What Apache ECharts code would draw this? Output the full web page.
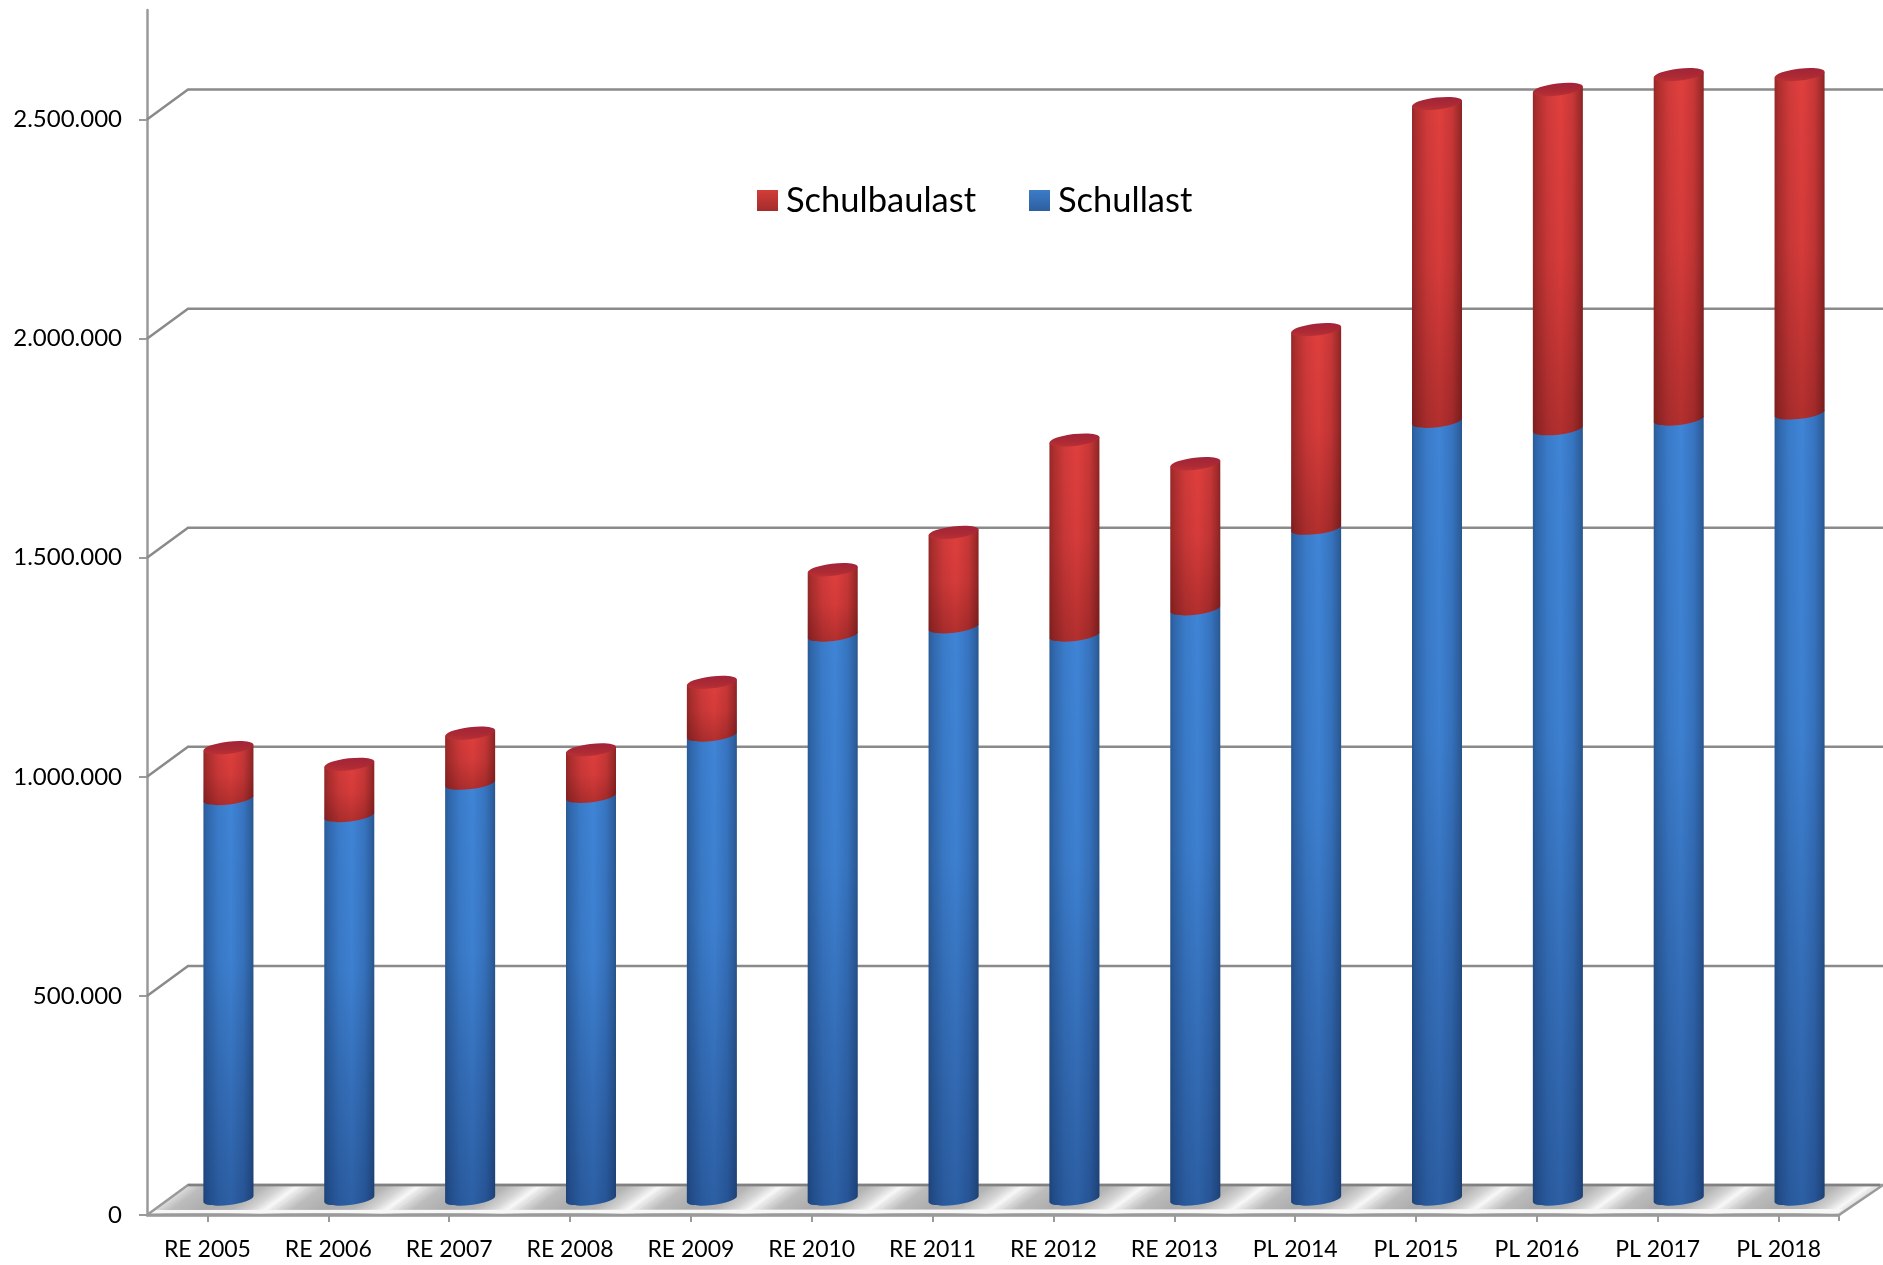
<!DOCTYPE html>
<html>
<head>
<meta charset="utf-8">
<title>Schullast und Schulbaulast</title>
<style>html,body{margin:0;padding:0;background:#fff}#c{width:1883px;height:1265px}</style>
<script src="https://cdn.jsdelivr.net/npm/echarts@6/dist/echarts.min.js"></script>
</head>
<body>
<div id="c"></div>
<script>
const categories = ['RE 2005','RE 2006','RE 2007','RE 2008','RE 2009','RE 2010','RE 2011','RE 2012','RE 2013','PL 2014','PL 2015','PL 2016','PL 2017','PL 2018'];
const schullast = [914000,875000,949000,919000,1059000,1287000,1306000,1287000,1347000,1531000,1775000,1758000,1780000,1794000];
const schulbaulast = [116000,117000,114000,106000,120000,149000,215000,445000,331000,453000,725000,774000,786000,772000];
const yTicks = [0,500000,1000000,1500000,2000000,2500000];
const wallLines = [500000,1000000,1500000,2000000,2500000];

const FONT = 'Lato';
const DX = 41, DY = -30, BAR_DX = 21, BAR_DY = -16, BAR_R = 25, LID_B = 6, TILT = 3;
const AXIS = '#9a9a9a', GRID = '#8a8a8a';

function ellipseArc(cx, cy) {
  const a = Math.hypot(BAR_R, TILT), c = BAR_R / a, s = -TILT / a, k = 0.5523;
  const p = (u, v) => (cx + u * c - v * s).toFixed(2) + ' ' + (cy + u * s + v * c).toFixed(2);
  const lower = ' C' + p(-a, k * LID_B) + ' ' + p(-k * a, LID_B) + ' ' + p(0, LID_B) + ' C' + p(k * a, LID_B) + ' ' + p(a, k * LID_B) + ' ' + p(a, 0);
  const upper = ' C' + p(a, -k * LID_B) + ' ' + p(k * a, -LID_B) + ' ' + p(0, -LID_B) + ' C' + p(-k * a, -LID_B) + ' ' + p(-a, -k * LID_B) + ' ' + p(-a, 0);
  return { start: 'M' + p(-a, 0), lower, upper, left: p(-a, 0), right: p(a, 0) };
}

function cylinder(palette) {
  return function (params, api) {
    const c = api.coord([api.value(0), api.value(1)]);
    const t = api.coord([api.value(0), api.value(2)]);
    const cx = c[0] + BAR_DX, yb = c[1] + BAR_DY, yt = t[1] + BAR_DY;
    const eb = ellipseArc(cx, yb), et = ellipseArc(cx, yt);
    const d = 'M' + et.left + ' L' + eb.left + eb.lower + ' L' + et.right + ' Z';
    const horiz = { type: 'linear', x: 0, y: 0, x2: 1, y2: 0, colorStops: palette.side };
    const vert = { type: 'linear', x: 0, y: 0, x2: 0, y2: 1, colorStops: palette.shade };
    const children = [
      { type: 'path', shape: { pathData: d }, style: { fill: horiz, stroke: null } },
      { type: 'path', shape: { pathData: d }, style: { fill: vert, stroke: null } }
    ];
    if (palette.lid) {
      children.push({ type: 'path', shape: { pathData: et.start + et.lower + et.upper + ' Z' },
        style: { fill: { type: 'linear', x: 0, y: 0, x2: 0, y2: 1, colorStops: palette.lid }, stroke: null } });
    }
    return { type: 'group', children };
  };
}

const BLUE = {
  side: [{offset:0,color:'#2a5a94'},{offset:.07,color:'#2f66aa'},{offset:.3,color:'#3a7bc9'},{offset:.55,color:'#3f84d6'},{offset:.8,color:'#3774c0'},{offset:.95,color:'#2d609f'},{offset:1,color:'#28558c'}],
  shade: [{offset:0,color:'rgba(0,0,30,0)'},{offset:.4,color:'rgba(0,0,30,0.03)'},{offset:1,color:'rgba(0,10,50,0.3)'}]
};
const RED = {
  side: [{offset:0,color:'#962828'},{offset:.08,color:'#ad2e2e'},{offset:.3,color:'#d03a3a'},{offset:.55,color:'#e03f3d'},{offset:.8,color:'#c83737'},{offset:.95,color:'#9e2a2a'},{offset:1,color:'#8a2323'}],
  shade: [{offset:0,color:'rgba(40,0,0,0)'},{offset:.5,color:'rgba(40,0,0,0.06)'},{offset:1,color:'rgba(40,0,0,0.25)'}],
  lid: [{offset:0,color:'#a3233a'},{offset:.6,color:'#ab2a34'},{offset:1,color:'#bb3035'}]
};

function renderFloor(params, api) {
  const i = api.value(0);
  const cs = params.coordSys;
  const w = cs.width / categories.length;
  const base = api.coord([0, 0])[1];
  const xl = cs.x + i * w;
  const nx = .59 * w * .59, ny = .807 * w * .59;
  return { type: 'polygon',
    shape: { points: [[xl, base], [xl + DX, base + DY], [xl + w + DX, base + DY], [xl + w, base]] },
    style: { stroke: null, fill: { type: 'linear', global: true, x: xl, y: base, x2: xl + nx, y2: base + ny,
      colorStops: [{offset:0,color:'#dedede'},{offset:.14,color:'#bcbcbc'},{offset:.4,color:'#acacac'},{offset:.64,color:'#b4b4b4'},{offset:.8,color:'#d4d4d4'},{offset:.92,color:'#f8f8f8'},{offset:1,color:'#dedede'}] } } };
}

function renderFloorEdges(params, api) {
  const cs = params.coordSys;
  const base = api.coord([0, 0])[1];
  const x0 = cs.x, x1 = cs.x + cs.width;
  const line = (pts, col, lw) => ({ type: 'polyline', shape: { points: pts }, style: { stroke: col, lineWidth: lw, fill: null } });
  return { type: 'group', children: [
    { type: 'polygon', shape: { points: [[x0 + 7, base - 5], [x0 + 4, base - 2], [x1 - 1, base - 2], [x1 + 4, base - 6]] }, style: { fill: '#f7f7f7', stroke: null } },
    line([[x0, base], [x0 + DX, base + DY], [x1 + DX + 3, base + DY], [x1, base], [x0, base]], AXIS, 2.5),
    line([[x0 + DX, base + DY], [x1 + DX, base + DY]], '#808080', 2.5),
    line([[x1, base], [x1, base + 6]], AXIS, 2)
  ] };
}

function renderWall(params, api) {
  const cs = params.coordSys;
  const y = api.coord([0, api.value(1)])[1];
  return { type: 'polyline',
    shape: { points: [[cs.x, y], [cs.x + DX, y + DY], [cs.x + cs.width + DX + 6, y + DY]] },
    style: { stroke: GRID, lineWidth: 2.5, fill: null } };
}

const fmt = v => String(v).replace(/\B(?=(\d{3})+$)/g, '.');

const chart = echarts.init(document.getElementById('c'), null, { renderer: 'canvas' });
chart.setOption({
  animation: false,
  backgroundColor: '#ffffff',
  grid: { left: 147, right: 44, top: 10, bottom: 50, containLabel: false },
  legend: {
    left: 752, top: 178, icon: 'rect', itemWidth: 21, itemHeight: 21, itemGap: 53, selectedMode: false,
    textStyle: { fontFamily: FONT, fontSize: 34.5, color: '#000', padding: [0, 0, 0, 3] },
    data: [
      { name: 'Schulbaulast', itemStyle: { color: { type:'linear',x:0,y:0,x2:0,y2:1,colorStops:[{offset:0,color:'#d23d38'},{offset:1,color:'#a32c2c'}] } } },
      { name: 'Schullast', itemStyle: { color: { type:'linear',x:0,y:0,x2:0,y2:1,colorStops:[{offset:0,color:'#3d7cc9'},{offset:1,color:'#2c5f9f'}] } } }
    ]
  },
  xAxis: {
    type: 'category', data: categories, boundaryGap: true,
    axisLine: { show: true, lineStyle: { color: AXIS, width: 2.5 } },
    axisTick: { show: true, alignWithLabel: true, length: 7, lineStyle: { color: AXIS, width: 2 } },
    axisLabel: { interval: 0, margin: 23, fontFamily: FONT, fontSize: 23, color: '#000' }
  },
  yAxis: {
    type: 'value', min: 0, max: 2750000,
    axisLine: { show: true, lineStyle: { color: AXIS, width: 2.5 } },
    axisTick: { show: true, length: 8, customValues: yTicks, lineStyle: { color: AXIS, width: 2 } },
    axisLabel: { margin: 25, customValues: yTicks, fontFamily: FONT, fontSize: 24, color: '#000', padding: [2, 0, 0, 0], formatter: fmt },
    splitLine: { show: false }
  },
  series: [
    { type: 'custom', name: 'floor', silent: true, clip: false, z: 1, renderItem: renderFloor,
      encode: { x: 0, y: 1 }, data: categories.map((c, i) => [i, 0]) },
    { type: 'custom', name: 'floorEdges', silent: true, clip: false, z: 2, renderItem: renderFloorEdges,
      encode: { x: 0, y: 1 }, data: [[0, 0]] },
    { type: 'custom', name: 'wall', silent: true, clip: false, z: 2, renderItem: renderWall,
      encode: { x: 0, y: 1 }, data: wallLines.map(v => [0, v]) },
    { type: 'custom', name: 'Schullast', silent: true, clip: false, z: 3, renderItem: cylinder(BLUE),
      itemStyle: { color: '#3a76c4' }, encode: { x: 0, y: [1, 2] },
      data: schullast.map((v, i) => [i, 0, v]) },
    { type: 'custom', name: 'Schulbaulast', silent: true, clip: false, z: 4, renderItem: cylinder(RED),
      itemStyle: { color: '#c23531' }, encode: { x: 0, y: [1, 2] },
      data: schulbaulast.map((v, i) => [i, schullast[i], schullast[i] + v]) }
  ]
});
</script>
</body>
</html>
